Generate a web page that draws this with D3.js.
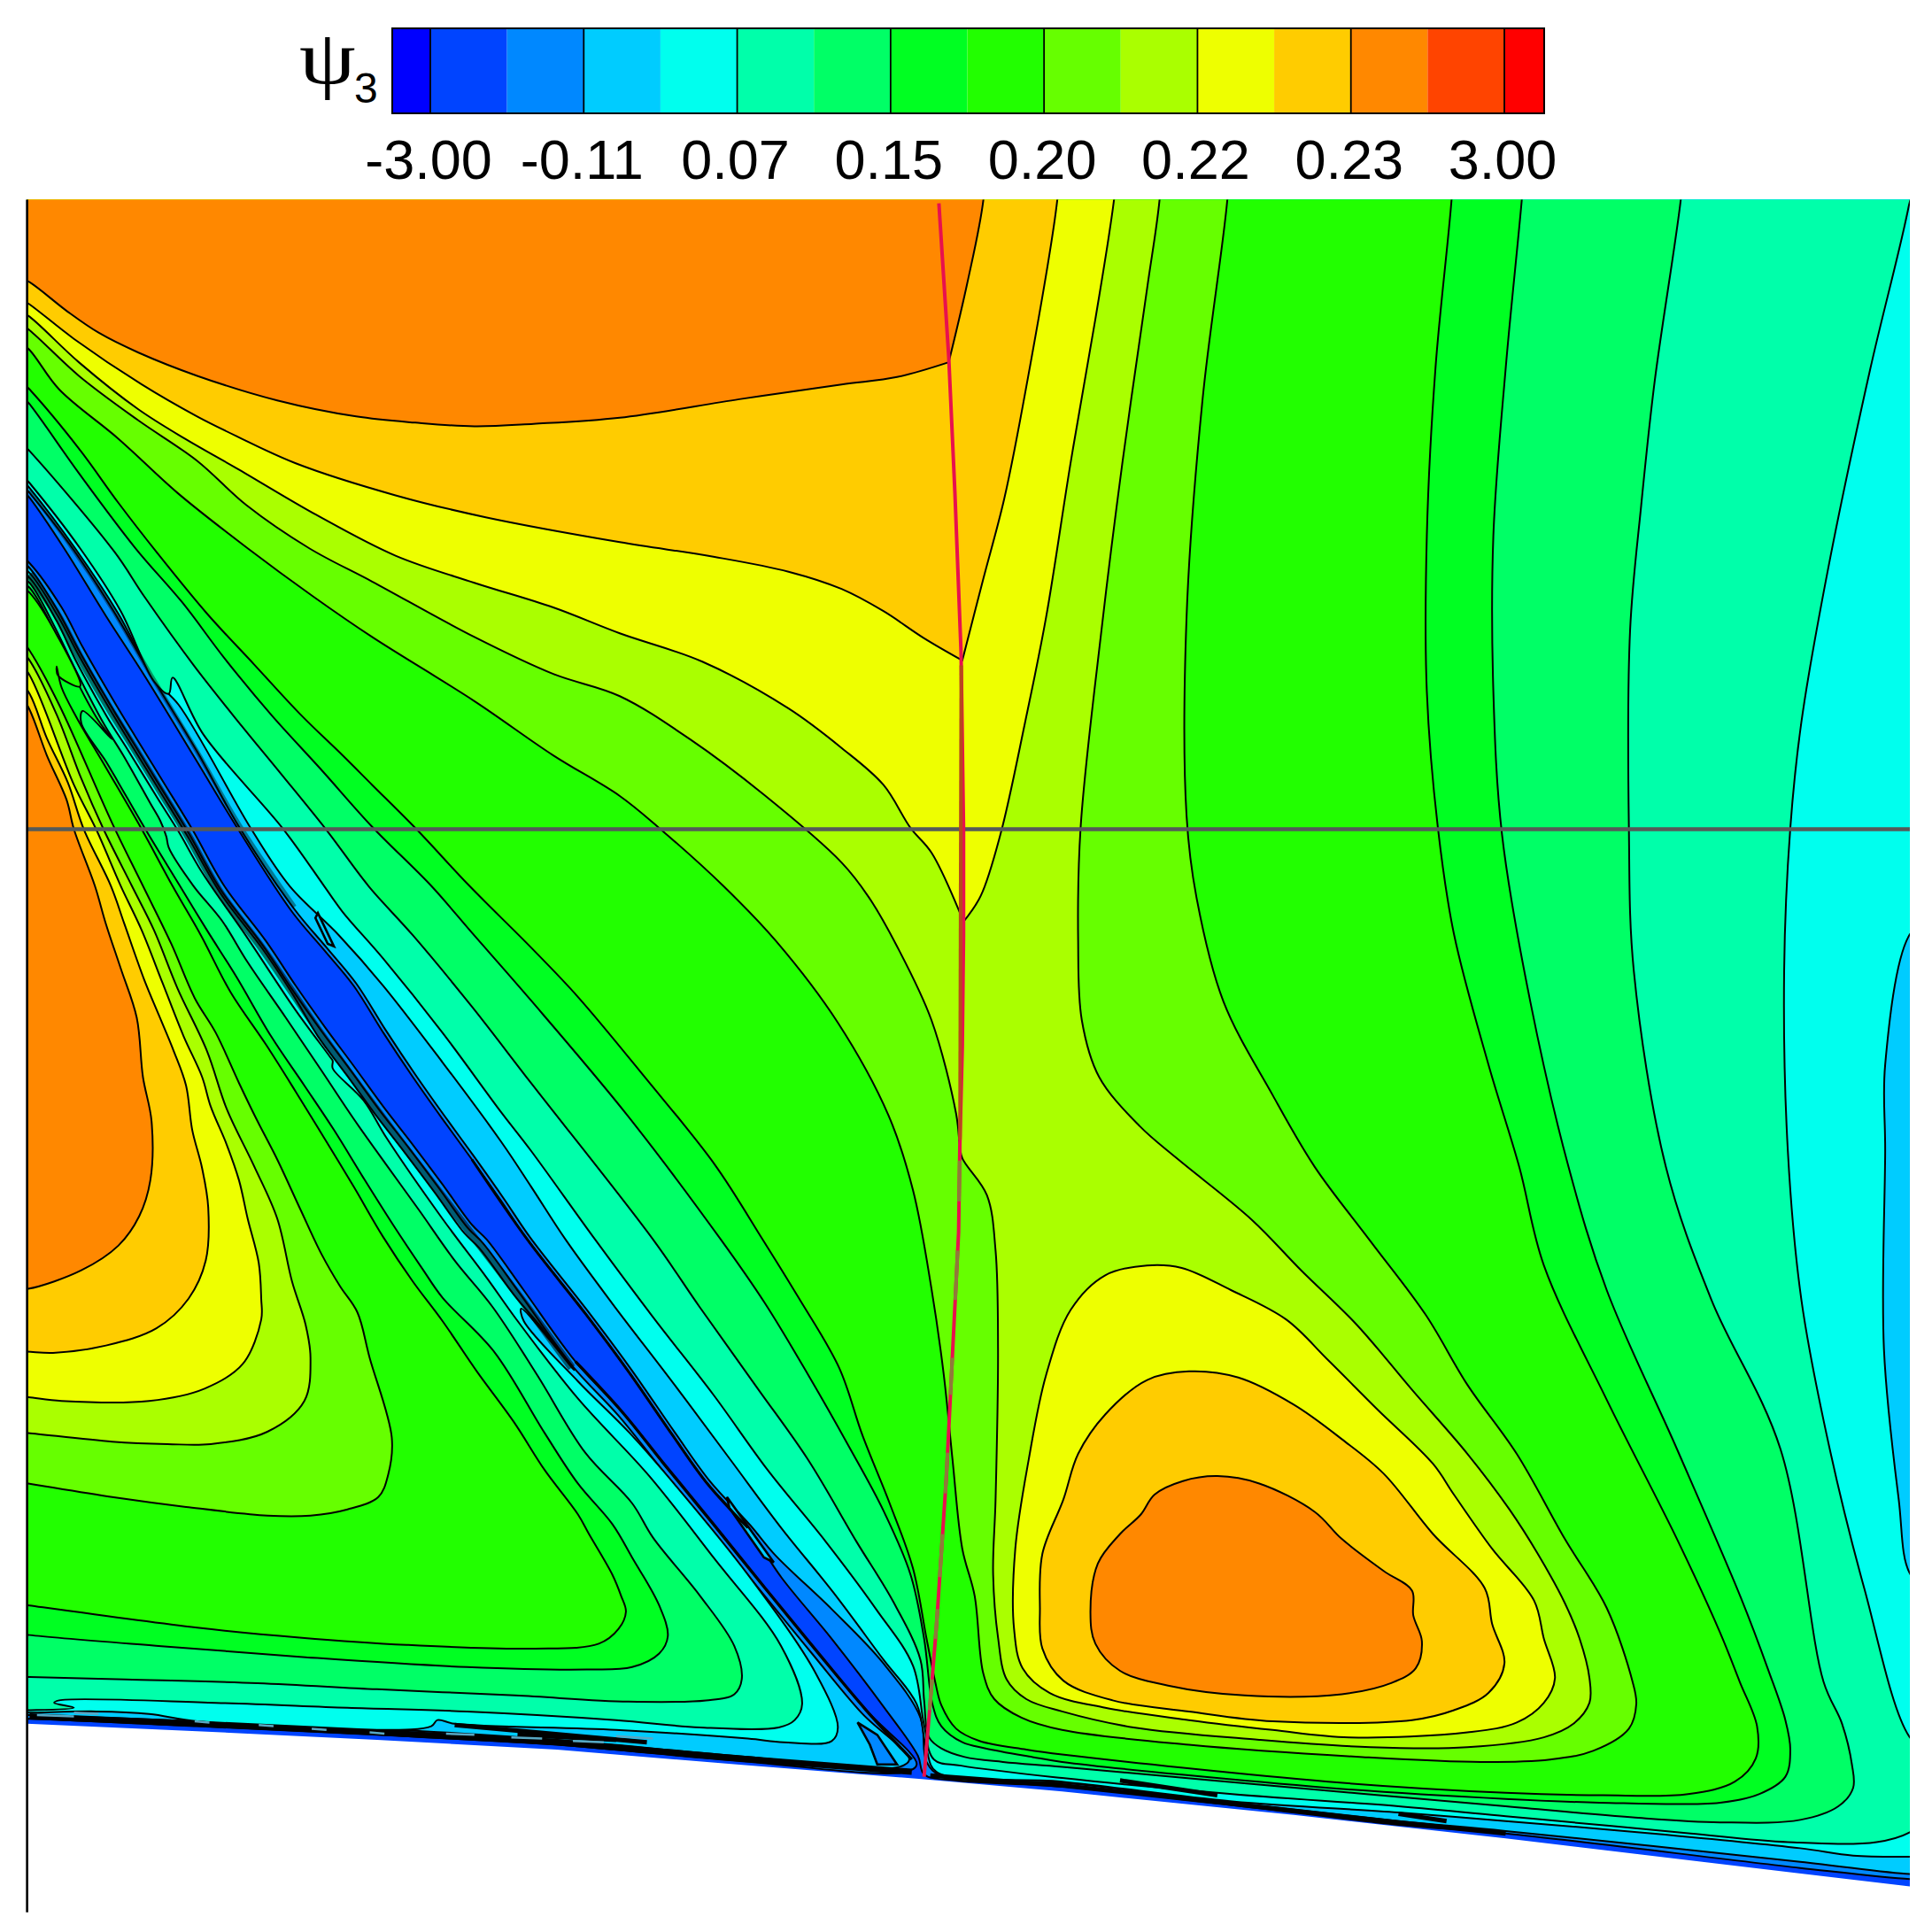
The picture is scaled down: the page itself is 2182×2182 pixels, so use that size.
<!DOCTYPE html>
<html><head><meta charset="utf-8">
<script src="https://cdn.jsdelivr.net/npm/d3@7"></script>
<style>html,body{margin:0;padding:0;background:#fff}svg{display:block}</style>
</head><body><div id="chart"></div>
<script>
// ---- colour bands and legend ----
const bandColors=["#0000ff","#0044ff","#0088ff","#00ccff","#00ffee","#00ffaa","#00ff66","#00ff22","#22ff00","#66ff00","#aaff00","#eeff00","#ffcc00","#ff8800","#ff4400","#ff0000"];
const legendLabels=["-3.00","-0.11","0.07","0.15","0.20","0.22","0.23","3.00"];
// ---- contour lines, in plot units ----
const wall=[[22,1399],[160,1405],[306,1412],[452,1420],[598,1432],[750,1444],[862,1454],[1050,1473],[1222,1492],[1365,1509],[1550,1531]];
const upper2=[[10,388],[24,404],[52,445],[86,500],[117,548],[158,615],[192,671],[237,740],[263,771],[287,800],[311,838],[335,874],[359,908],[383,941],[407,975],[428,1006],[475,1066],[510,1113],[546,1165],[574,1204],[607,1240],[634,1280],[675,1330],[717,1385],[745,1425],[750,1440],[775,1445],[862,1450],[1000,1465],[1135,1481],[1222,1488],[1461,1516],[1550,1525],[1570,1525],[1570,100],[-10,100]];
const upper3=[[10,384],[24,400],[56,441],[91,494],[122,547],[160,610],[194,671],[239,738],[265,769],[289,798],[313,836],[337,872],[361,906],[385,939],[409,973],[430,1004],[477,1064],[512,1111],[548,1163],[576,1202],[609,1238],[629,1262],[675,1306],[717,1350],[747,1394],[752,1430],[765,1442],[862,1447],[1000,1463],[1135,1478],[1222,1486],[1461,1511],[1550,1521],[1570,1521],[1570,100],[-10,100]];
const upper4=[[10,380],[24,396],[61,445],[96,498],[125,551],[145,572],[204,673],[235,719],[275,759],[311,800],[359,862],[407,927],[431,963],[459,1006],[497,1058],[546,1122],[593,1185],[634,1240],[676,1292],[717,1347],[744,1383],[752,1420],[760,1438],[862,1446],[1000,1462],[1135,1471],[1222,1478],[1341,1488],[1461,1500],[1504,1506],[1550,1507],[1570,1507],[1570,1295],[1550,1277],[1541,1217],[1529,1095],[1530,934],[1530,864],[1549,760],[1570,740],[1570,100],[-10,100]];
const upper5=[[10,376],[24,392],[65,445],[98,496],[125,553],[137,563],[140,550],[165,596],[230,673],[263,719],[278,740],[311,778],[359,838],[407,903],[431,934],[483,1006],[530,1069],[579,1132],[623,1193],[670,1251],[711,1306],[741,1352],[750,1400],[758,1428],[780,1433],[862,1443],[1000,1456],[1135,1466],[1222,1474],[1308,1482],[1372,1488],[1451,1495],[1523,1495],[1550,1487],[1570,1470],[1570,1425],[1550,1410],[1513,1289],[1485,1176],[1462,1055],[1451,934],[1448,788],[1453,672],[1462,586],[1484,460],[1518,299],[1549,168],[1560,100],[-10,100]];
const upper6=[[10,352],[24,366],[93,448],[117,484],[158,541],[196,589],[228,628],[266,675],[299,719],[335,759],[383,817],[431,879],[530,1006],[568,1061],[615,1127],[656,1185],[695,1251],[725,1300],[747,1347],[750,1380],[754,1410],[764,1419],[783,1426],[814,1430],[862,1434],[1040,1450],[1222,1466],[1325,1475],[1396,1479],[1461,1477],[1492,1466],[1504,1451],[1503,1432],[1495,1399],[1480,1365],[1445,1176],[1389,1055],[1352,947],[1326,788],[1322,672],[1323,511],[1332,410],[1343,309],[1364,163],[1370,100],[-10,100]];
const upper7=[[10,312],[24,328],[64,384],[110,445],[148,489],[182,534],[220,580],[261,625],[302,671],[350,719],[383,757],[431,812],[509,905],[585,1006],[621,1058],[656,1116],[689,1174],[717,1226],[739,1278],[750,1330],[757,1384],[764,1401],[781,1414],[800,1419],[838,1426],[862,1430],[1078,1451],[1222,1460],[1298,1463],[1396,1463],[1428,1456],[1449,1442],[1453,1420],[1449,1396],[1435,1355],[1413,1297],[1361,1176],[1304,1047],[1273,947],[1242,813],[1219,677],[1212,561],[1212,435],[1222,299],[1235,163],[1240,100],[-10,100]];
const upper8=[[10,302],[24,316],[64,364],[96,408],[127,448],[168,498],[206,539],[244,580],[278,613],[302,637],[338,673],[381,719],[431,769],[469,809],[524,875],[580,945],[619,1006],[648,1053],[681,1110],[700,1165],[722,1220],[741,1273],[752,1330],[759,1365],[764,1384],[776,1403],[795,1413],[833,1420],[862,1424],[1078,1446],[1222,1455],[1301,1457],[1370,1456],[1408,1446],[1425,1427],[1426,1401],[1412,1365],[1396,1325],[1361,1249],[1304,1136],[1253,1027],[1233,947],[1208,864],[1180,758],[1167,672],[1158,561],[1158,435],[1165,299],[1178,163],[1182,100],[-10,100]];
const upper9=[[10,272],[24,284],[48,316],[96,356],[144,400],[201,445],[254,484],[302,517],[385,569],[449,613],[503,646],[535,672],[587,719],[630,764],[680,830],[721,905],[741,966],[756,1046],[766,1116],[773,1184],[781,1257],[791,1295],[798,1358],[807,1379],[829,1394],[862,1404],[965,1416],[1106,1426],[1202,1430],[1258,1428],[1293,1421],[1322,1403],[1328,1383],[1325,1365],[1304,1305],[1270,1249],[1231,1180],[1191,1124],[1157,1067],[1112,1007],[1067,947],[1033,889],[993,813],[971,728],[963,662],[963,501],[976,324],[996,163],[1000,100],[-10,100]];
const upper10=[[10,258],[24,268],[64,305],[112,341],[160,374],[200,410],[251,445],[302,472],[385,517],[449,547],[503,565],[560,600],[620,645],[683,700],[705,728],[728,768],[756,828],[776,904],[779,930],[781,940],[801,970],[808,1015],[810,1095],[808,1217],[806,1277],[810,1329],[817,1363],[833,1379],[862,1389],[920,1402],[1022,1412],[1112,1418],[1191,1418],[1253,1410],[1277,1399],[1290,1382],[1290,1362],[1282,1330],[1270,1301],[1248,1261],[1225,1225],[1191,1180],[1146,1128],[1101,1075],[1056,1031],[1016,990],[955,940],[925,914],[892,874],[878,828],[875,763],[877,672],[894,511],[911,375],[931,234],[941,163],[945,100],[-10,100]];
const upper11=[[10,248],[24,257],[64,294],[112,332],[150,356],[192,380],[257,418],[321,451],[385,473],[449,493],[503,514],[570,537],[640,575],[683,607],[717,637],[739,672],[756,692],[782,748],[782,748],[796,727],[812,677],[832,586],[849,501],[869,375],[889,259],[904,163],[910,100],[-10,100]];
const upper12=[[10,238],[24,247],[60,275],[115,312],[160,338],[192,354],[240,376],[321,402],[395,420],[503,440],[580,452],[640,464],[683,478],[717,496],[750,518],[781,536],[781,536],[798,470],[815,405],[832,319],[858,163],[862,100],[-10,100]];
const upper13=[[10,222],[24,229],[55,253],[80,270],[112,286],[160,305],[225,325],[289,338],[337,343],[385,346],[433,344],[503,339],[600,324],[683,312],[728,306],[770,294],[770,294],[785,230],[798,163],[802,100],[-10,100]];
const lower2=[[10,445],[24,457],[50,493],[67,525],[93,570],[110,598],[134,637],[156,673],[182,719],[216,764],[240,800],[264,834],[287,865],[311,898],[335,929],[359,961],[383,994],[395,1006],[425,1047],[467,1105],[505,1146],[538,1187],[579,1237],[621,1289],[662,1339],[703,1388],[744,1432],[735,1438],[597,1429],[452,1416],[306,1408],[160,1401],[24,1395],[10,1395]];
const lower3=[[10,449],[24,461],[47,496],[64,528],[90,573],[107,601],[131,640],[153,676],[179,722],[213,767],[237,803],[261,837],[284,868],[308,901],[332,932],[356,964],[380,997],[392,1009],[422,1050],[464,1108],[502,1149],[535,1190],[576,1240],[618,1292],[659,1342],[700,1391],[738,1428],[730,1434],[597,1425],[452,1412],[306,1403],[160,1397],[24,1392],[10,1392]];
const lower4=[[10,455],[24,465],[47,500],[64,532],[90,577],[107,605],[131,644],[153,680],[179,725],[213,770],[237,806],[258,841],[281,872],[305,905],[329,936],[353,968],[377,1001],[389,1013],[418,1052],[440,1078],[466,1112],[423,1062],[425,1072],[469,1121],[511,1163],[552,1210],[607,1278],[662,1358],[680,1402],[675,1413],[636,1414],[607,1411],[500,1404],[369,1399],[355,1396],[350,1401],[300,1404],[160,1397],[121,1391],[78,1389],[24,1390],[10,1390]];
const lower5=[[10,459],[24,469],[46,504],[62,537],[87,582],[104,609],[128,648],[145,675],[164,708],[200,760],[240,820],[268,858],[270,861],[270,867],[295,893],[314,924],[359,989],[395,1037],[420,1072],[469,1135],[527,1198],[579,1264],[634,1336],[651,1383],[645,1396],[632,1402],[568,1402],[500,1396],[379,1389],[282,1386],[175,1382],[48,1380],[44,1382],[60,1386],[24,1388],[10,1388]];
const lower6=[[10,463],[24,473],[44,508],[60,541],[84,587],[100,613],[122,652],[130,666],[135,679],[137,688],[157,719],[180,747],[201,781],[232,826],[261,869],[287,908],[314,946],[340,982],[369,1023],[400,1061],[436,1116],[475,1179],[513,1220],[530,1248],[568,1295],[596,1336],[602,1363],[596,1375],[573,1380],[510,1381],[418,1376],[306,1371],[209,1366],[102,1363],[24,1361],[10,1361]];
const lower7=[[10,467],[24,477],[44,512],[60,548],[80,585],[91,600],[67,577],[66,587],[86,618],[96,635],[118,673],[146,719],[168,755],[192,793],[220,841],[247,881],[271,917],[295,956],[319,994],[343,1030],[359,1053],[401,1097],[442,1163],[469,1204],[497,1237],[513,1264],[535,1303],[542,1328],[535,1342],[513,1353],[476,1355],[379,1353],[248,1345],[131,1336],[24,1327],[10,1325]];
const lower8=[[10,471],[24,481],[46,515],[65,557],[47,548],[46,541],[50,558],[62,582],[86,623],[115,673],[140,719],[163,759],[187,805],[216,848],[240,886],[264,925],[287,963],[311,1004],[335,1040],[359,1072],[387,1113],[417,1154],[442,1193],[469,1229],[478,1245],[497,1278],[504,1295],[508,1308],[502,1322],[486,1334],[432,1338],[330,1335],[243,1329],[160,1321],[24,1303],[10,1301]];
const lower9=[[10,510],[24,528],[48,572],[91,668],[116,719],[139,766],[158,810],[175,838],[194,879],[208,908],[225,941],[244,982],[261,1018],[276,1044],[290,1065],[300,1102],[318,1167],[315,1197],[307,1215],[282,1225],[252,1230],[217,1230],[151,1223],[91,1215],[23,1204],[10,1202]];
const lower10=[[10,520],[24,536],[46,580],[66,632],[84,673],[107,719],[125,755],[144,802],[168,853],[184,900],[206,946],[225,989],[237,1040],[248,1075],[252,1102],[247,1137],[217,1162],[171,1172],[136,1172],[91,1170],[23,1163],[10,1162]];
const lower11=[[10,530],[24,548],[60,637],[78,673],[98,719],[115,755],[132,798],[149,841],[164,874],[171,898],[184,929],[194,958],[201,989],[210,1025],[212,1054],[212,1071],[197,1107],[166,1127],[121,1137],[50,1137],[23,1134],[10,1133]];
const lower12=[[10,545],[24,563],[38,599],[55,635],[68,673],[90,719],[101,750],[117,795],[129,824],[141,853],[151,881],[156,917],[164,948],[169,980],[167,1023],[153,1054],[127,1078],[86,1092],[43,1098],[22,1097],[10,1097]];
const lower13=[[10,552],[24,576],[38,613],[54,649],[60,673],[77,719],[86,750],[98,786],[111,826],[116,874],[123,910],[122,958],[113,987],[96,1011],[66,1031],[23,1046],[10,1046]];
const bubble11=[[931,1027],[959,1029],[999,1047],[1044,1071],[1078,1104],[1118,1144],[1163,1188],[1180,1213],[1211,1257],[1245,1299],[1253,1330],[1262,1362],[1253,1382],[1231,1398],[1191,1406],[1095,1410],[1033,1404],[965,1396],[897,1386],[852,1374],[830,1354],[823,1322],[824,1257],[835,1184],[849,1116],[869,1063],[897,1035]];
const bubble12=[[965,1113],[1005,1118],[1050,1140],[1089,1168],[1123,1196],[1163,1245],[1205,1289],[1211,1318],[1221,1350],[1208,1374],[1180,1388],[1146,1396],[1033,1397],[965,1389],[903,1380],[863,1364],[846,1338],[844,1305],[846,1261],[863,1217],[875,1180],[897,1148],[931,1120]];
const bubble13=[[988,1198],[1022,1204],[1067,1227],[1089,1249],[1123,1275],[1146,1291],[1147,1311],[1154,1332],[1149,1354],[1129,1366],[1089,1375],[1010,1376],[948,1368],[909,1356],[889,1334],[885,1309],[891,1269],[909,1245],[926,1229],[937,1213],[960,1202]];
const footWedge=[[696,1398],[712,1408],[728,1432],[712,1432],[706,1416]];
const upperSliver=[[258,741],[271,768],[266,766],[256,745]];
const midSliver=[[590,1215],[628,1268],[620,1264],[592,1224]];
const hatchLower=[[24,466],[47,500],[64,532],[90,577],[107,604],[131,643],[153,679],[179,725],[213,770],[261,840],[308,904],[356,967],[422,1053],[464,1110]];
const hatchUpper=[[24,398],[56,441],[91,494],[122,547],[160,610],[194,669],[239,736]];
const edgeLower=[[467,1105],[505,1146],[538,1187],[579,1237],[621,1289],[662,1339],[703,1388],[740,1428]];
const edgeUpper=[[383,941],[428,1006],[475,1066],[510,1113],[546,1165],[574,1204],[607,1240]];
const wallBandLeft=[[24,1393],[160,1399],[306,1406],[452,1414],[597,1427],[740,1438]];
const wallBandRight=[[755,1441],[862,1449],[1000,1464],[1135,1479],[1222,1488]];
const wallNoise=[[[909,1445],[988,1457]],[[1135,1472],[1174,1478]],[[369,1400],[525,1414]],[[420,1408],[500,1412]]];
const wallDashes=[[[30,1392],[60,1393]],[[60,1390],[80,1391]],[[158,1397],[170,1398]],[[210,1400],[222,1401]],[[253,1403],[265,1404]],[[300,1406],[312,1407]],[[362,1407],[385,1408]],[[415,1410],[440,1411]],[[465,1413],[490,1414]],[[500,1409],[530,1411]]];
const shockLine=[[762,165],[770,290],[775,400],[780,530],[782,672],[782,760],[781,850],[779,930],[778,1000],[773,1100],[768,1200],[760,1320],[750,1442]];
const shockDarkRanges=[[540,925],[942,975],[1015,1055],[1102,1132],[1179,1212],[1245,1280],[1306,1330],[1363,1388]];
const cutY=673;

// ---- scales ----
const W=2182, H=2182;
const x=d3.scaleLinear().domain([0,1568]).range([0,W]);
const y=d3.scaleLinear().domain([0,1568]).range([0,H]);
const legendX=d3.scaleLinear().domain([0,7]).range([486,1699]);

const svg=d3.select("#chart").append("svg").attr("width",W).attr("height",H).attr("viewBox",`0 0 ${W} ${H}`);
svg.append("rect").attr("width",W).attr("height",H).attr("fill","#fff");

const smooth=d3.line().x(d=>x(d[0])).y(d=>y(d[1])).curve(d3.curveCatmullRom.alpha(0.5));
const closedSmooth=d3.line().x(d=>x(d[0])).y(d=>y(d[1])).curve(d3.curveCatmullRomClosed.alpha(0.5));
const straight=d3.line().x(d=>x(d[0])).y(d=>y(d[1]));

const clipPts=[[22,162],[1550,162],...wall.slice().reverse()];
svg.append("defs").append("clipPath").attr("id","plot").append("path").attr("d",straight(clipPts)+"Z");
const plot=svg.append("g").attr("clip-path","url(#plot)");
plot.append("rect").attr("x",x(0)).attr("y",y(0)).attr("width",W).attr("height",H).attr("fill",bandColors[1]);

const layers=[
 [2,[upper2,lower2]],[3,[upper3,lower3]],[4,[upper4,lower4]],[5,[upper5,lower5]],
 [6,[upper6,lower6]],[7,[upper7,lower7]],[8,[upper8,lower8]],[9,[upper9,lower9]],
 [10,[upper10,lower10]],[11,[upper11,lower11,bubble11]],[12,[upper12,lower12,bubble12]],[13,[upper13,lower13,bubble13]]
];
const bubbles=new Set([bubble11,bubble12,bubble13]);
layers.forEach(([band,polys])=>{
  plot.selectAll(null).data(polys).join("path")
    .attr("d",d=>bubbles.has(d)?closedSmooth(d):smooth(d)+"Z")
    .attr("fill",bandColors[band]).attr("stroke","#000").attr("stroke-width",2).attr("stroke-linejoin","round");
});
[[footWedge,2],[upperSliver,3],[midSliver,3]].forEach(([d,b])=>{
  plot.append("path").attr("d",straight(d)+"Z").attr("fill",bandColors[b]).attr("stroke","#000").attr("stroke-width",2.6);
});
// dense hatching along the valley
plot.append("path").attr("d",smooth(hatchLower)).attr("fill","none").attr("stroke","#000").attr("stroke-opacity",0.55).attr("stroke-width",9);
plot.append("path").attr("d",smooth(hatchUpper)).attr("fill","none").attr("stroke","#000").attr("stroke-opacity",0.4).attr("stroke-width",5);
plot.append("path").attr("d",smooth(edgeLower)).attr("fill","none").attr("stroke","#000").attr("stroke-width",3.4);
plot.append("path").attr("d",smooth(edgeUpper)).attr("fill","none").attr("stroke","#000").attr("stroke-width",3);
// near-wall dark bands
plot.append("path").attr("d",straight(wallBandLeft)).attr("fill","none").attr("stroke","#000").attr("stroke-width",7);
plot.append("path").attr("d",straight(wallBandRight)).attr("fill","none").attr("stroke","#000").attr("stroke-width",5);
plot.selectAll(null).data(wallNoise).join("path").attr("d",d=>straight(d)).attr("fill","none").attr("stroke","#000").attr("stroke-width",5);
plot.selectAll(null).data(wallDashes).join("path").attr("d",d=>straight(d)).attr("fill","none").attr("stroke","#58a8c4").attr("stroke-width",2.5);

// cut line and shock line
svg.append("line").attr("x1",x(22)).attr("x2",x(1550)).attr("y1",y(cutY)).attr("y2",y(cutY)).attr("stroke","#555a58").attr("stroke-width",4.5);
svg.append("path").attr("d",straight(shockLine)).attr("fill","none").attr("stroke","#e8104e").attr("stroke-width",4);
const shockXat=d3.scaleLinear().domain(shockLine.map(d=>d[1])).range(shockLine.map(d=>d[0]));
svg.selectAll(null).data(shockDarkRanges).join("line")
  .attr("x1",d=>x(shockXat(d[0]))).attr("x2",d=>x(shockXat(d[1])))
  .attr("y1",d=>y(d[0])).attr("y2",d=>y(d[1]))
  .attr("stroke",(d,i)=>i===0?"#b8481c":"#8f7a3a").attr("stroke-width",4);

svg.append("line").attr("x1",x(22)).attr("x2",x(22)).attr("y1",y(162)).attr("y2",y(1552)).attr("stroke","#000").attr("stroke-width",2.6);

// ---- legend ----
const lg=svg.append("g");
const legTop=32, legBot=128, legL=443, legR=1744;
const step=legendX(1)-legendX(0);
const bandEdges=bandColors.map((c,i)=>{
  const a=i===0?legL:legendX(0)+(i-1)*step/2;
  const b=i===15?legR:legendX(0)+i*step/2;
  return {c,a,b};
});
lg.selectAll(null).data(bandEdges).join("rect")
  .attr("x",d=>d.a).attr("y",legTop).attr("width",d=>d.b-d.a).attr("height",legBot-legTop).attr("fill",d=>d.c);
lg.selectAll(null).data(legendLabels).join("line")
  .attr("x1",(d,i)=>legendX(i)).attr("x2",(d,i)=>legendX(i)).attr("y1",legTop).attr("y2",legBot).attr("stroke","#000").attr("stroke-width",1.8);
lg.append("rect").attr("x",legL).attr("y",legTop).attr("width",legR-legL).attr("height",legBot-legTop).attr("fill","none").attr("stroke","#000").attr("stroke-width",2);

const axis=d3.axisBottom(legendX).tickValues(d3.range(legendLabels.length)).tickFormat(i=>legendLabels[i]).tickSize(0).tickPadding(0);
const ag=svg.append("g").attr("transform","translate(-2.5,201.5)").call(axis);
ag.select(".domain").remove();
ag.selectAll("text").attr("dy",0).attr("y",0).attr("font-family","'Liberation Sans',Arial,sans-serif").attr("font-size",63).attr("fill","#000").attr("text-anchor","middle");

svg.append("text").attr("transform","translate(338,94) scale(1.18,1)").attr("font-family","'Liberation Serif',serif").attr("font-size",86).attr("fill","#000").text("ψ");
svg.append("text").attr("x",400).attr("y",116).attr("font-family","'Liberation Sans',Arial,sans-serif").attr("font-size",48).attr("fill","#000").text("3");
</script></body></html>
